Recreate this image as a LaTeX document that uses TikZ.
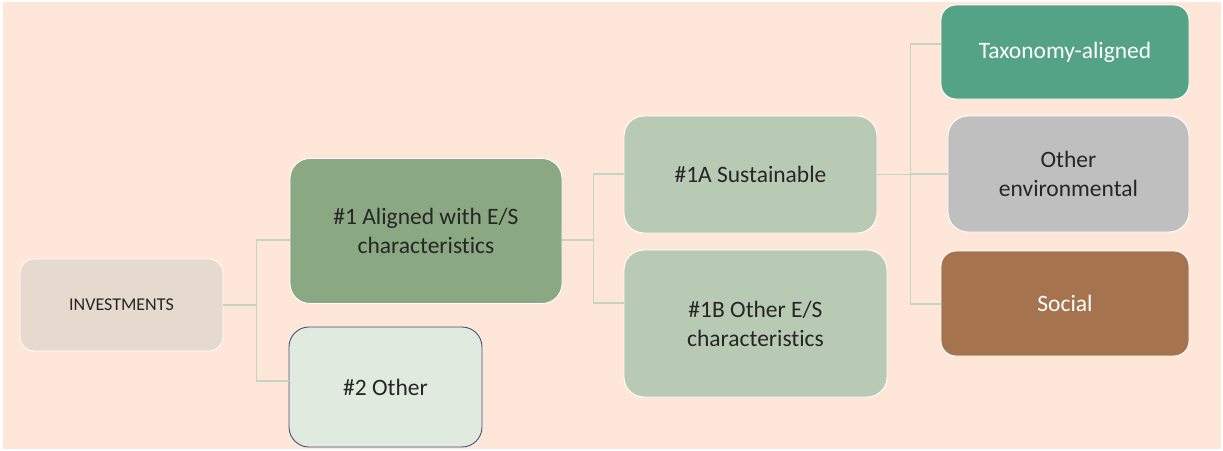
\documentclass[tikz,border=0pt]{standalone}
\usepackage{fontspec}
\setmainfont{Carlito}[Ligatures={NoCommon}]
\definecolor{bgpeach}{HTML}{FEE7D8}
\definecolor{invfill}{HTML}{E6D9CD}
\definecolor{alfill}{HTML}{8AA882}
\definecolor{otfill}{HTML}{E1EADF}
\definecolor{otdraw}{HTML}{42507C}
\definecolor{subfill}{HTML}{B8CAB4}
\definecolor{taxfill}{HTML}{55A386}
\definecolor{envfill}{HTML}{BFBFBF}
\definecolor{socfill}{HTML}{A5744F}
\definecolor{linecol}{HTML}{C3D5BE}
\definecolor{txtdark}{HTML}{262626}
\tikzset{
  box/.style={rounded corners=20pt, draw=white, line width=0.9pt, inner sep=0pt,
    align=center, text=txtdark, font=\fontsize{23.5}{29}\selectfont},
  conn/.style={draw=linecol, line width=1.3pt},
}
\begin{document}
\begin{tikzpicture}[x=1pt,y=-1pt]
\useasboundingbox (0,0) rectangle (1223,450);
\fill[white] (0,0) rectangle (1223,450);
\fill[bgpeach] (3,2) rectangle (1221,449);

\node[box, fill=invfill, rounded corners=14pt, minimum width=203pt, minimum height=92pt,
  font=\fontsize{18}{21}\selectfont] (inv) at (121.5,305) {INVESTMENTS};
\node[box, fill=alfill, minimum width=272pt, minimum height=145pt] (a1) at (426,231)
  {\#1 Aligned with E/S\\characteristics};
\node[box, fill=otfill, draw=otdraw, minimum width=193pt, minimum height=120pt] (o2) at (385.5,387)
  {\#2 Other};
\node[box, fill=subfill, minimum width=253pt, minimum height=117pt] (s1a) at (750.5,174.5)
  {\#1A Sustainable};
\node[box, fill=subfill, minimum width=263pt, minimum height=147pt] (s1b) at (755.5,323.5)
  {\#1B Other E/S\\characteristics};
\node[box, fill=taxfill, text=white, rounded corners=15pt, minimum width=248pt, minimum height=94pt] (tax) at (1065,52)
  {Taxonomy-aligned};
\node[box, fill=envfill, minimum width=241pt, minimum height=116pt] (oenv) at (1068.5,174)
  {Other\\environmental};
\node[box, fill=socfill, text=white, rounded corners=15pt, minimum width=248pt, minimum height=105pt] (soc) at (1065,303.5)
  {Social};

\draw[conn] (inv.east) -- ++(33,0) |- ([yshift=-9pt]a1.west);
\draw[conn] (inv.east) -- ++(33,0) |- ([yshift=6pt]o2.west);
\draw[conn] ([yshift=-9pt]a1.east) -- ++(31,0) |- ([yshift=0.5pt]s1a.west);
\draw[conn] ([yshift=-9pt]a1.east) -- ++(31,0) |- ([yshift=20.5pt]s1b.west);
\draw[conn] (s1a.east) -- ++(33,0) |- ([yshift=8pt]tax.west);
\draw[conn] (s1a.east) -- ++(33,0) |- (oenv.west);
\draw[conn] (s1a.east) -- ++(33,0) |- ([yshift=-0.5pt]soc.west);
\end{tikzpicture}
\end{document}
